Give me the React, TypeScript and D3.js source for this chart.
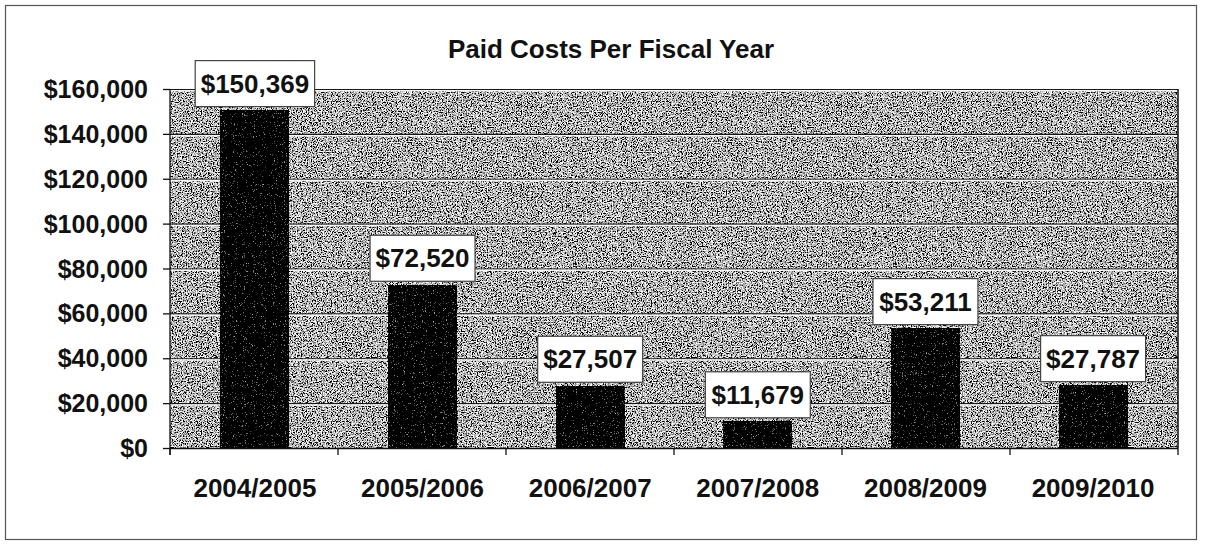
import React from "react";
import * as d3 from "d3";

const categories = ["2004/2005", "2005/2006", "2006/2007", "2007/2008", "2008/2009", "2009/2010"];
const values = [150369, 72520, 27507, 11679, 53211, 27787];
const yTicks = [0, 20000, 40000, 60000, 80000, 100000, 120000, 140000, 160000];
const title = "Paid Costs Per Fiscal Year";

const W = 1205;
const H = 544;
const plot = { left: 170, right: 1178, top: 89, bottom: 448 };
const FONT = "'Liberation Sans', Arial, sans-serif";

export default function App() {
  const x = d3
    .scaleBand<string>()
    .domain(categories)
    .range([plot.left, plot.right])
    .paddingInner(0.595)
    .paddingOuter(0.304);
  const y = d3.scaleLinear().domain([0, 160000]).range([plot.bottom, plot.top]);
  const fmt = (v: number) => "$" + d3.format(",")(v);
  const step = (plot.right - plot.left) / categories.length;
  const yFont = 25;
  const labFont = 26;
  const charW = (s: string) =>
    s.split("").reduce((a, c) => a + (c === "," ? 0.278 : 0.556), 0) * labFont;

  return (
    <svg width={W} height={H} style={{ position: "absolute", left: 0, top: 0, background: "#fff" }}>
      <defs>
        <filter id="grain" x="0" y="0" width="100%" height="100%" filterUnits="objectBoundingBox">
          <feTurbulence type="fractalNoise" baseFrequency="0.8" numOctaves="2" seed="7" result="n" />
          <feColorMatrix
            in="n"
            type="matrix"
            values="0.33 0.33 0.33 0 0  0.33 0.33 0.33 0 0  0.33 0.33 0.33 0 0  0 0 0 0 1"
            result="g"
          />
          <feComponentTransfer in="g">
            <feFuncR type="linear" slope="7" intercept="-3.0" />
            <feFuncG type="linear" slope="7" intercept="-3.0" />
            <feFuncB type="linear" slope="7" intercept="-3.0" />
          </feComponentTransfer>
        </filter>
        <filter id="grainDark" x="0" y="0" width="100%" height="100%" filterUnits="objectBoundingBox">
          <feTurbulence type="fractalNoise" baseFrequency="0.9" numOctaves="2" seed="11" result="n" />
          <feColorMatrix
            in="n"
            type="matrix"
            values="0.33 0.33 0.33 0 0  0.33 0.33 0.33 0 0  0.33 0.33 0.33 0 0  0 0 0 0 1"
            result="g"
          />
          <feComponentTransfer in="g">
            <feFuncR type="linear" slope="3" intercept="-1.75" />
            <feFuncG type="linear" slope="3" intercept="-1.75" />
            <feFuncB type="linear" slope="3" intercept="-1.75" />
          </feComponentTransfer>
        </filter>
      </defs>

      {/* outer frame */}
      <rect x={5.5} y={5.5} width={1191} height={534} fill="#fff" stroke="#555" strokeWidth={1.2} />

      {/* title */}
      <text x={611} y={58} textAnchor="middle" fontFamily={FONT} fontWeight="bold" fontSize={26} fill="#111">
        {title}
      </text>

      {/* plot background */}
      <rect
        x={plot.left}
        y={plot.top}
        width={plot.right - plot.left}
        height={plot.bottom - plot.top}
        fill="#a0a0a0"
        filter="url(#grain)"
      />

      {/* gridlines */}
      {yTicks.slice(1).map((t) => (
        <g key={"g" + t}>
          <line x1={plot.left} x2={plot.right} y1={y(t) + 0.5} y2={y(t) + 0.5} stroke="#1a1a1a" strokeWidth={1.2} />
          <line x1={plot.left} x2={plot.right} y1={y(t) + 1.8} y2={y(t) + 1.8} stroke="#f4f4f4" strokeWidth={1.4} />
        </g>
      ))}

      {/* right border */}
      <line x1={plot.right} x2={plot.right} y1={plot.top} y2={plot.bottom} stroke="#111" strokeWidth={1.5} />

      {/* bars */}
      {categories.map((c, i) => (
        <rect
          key={"b" + c}
          x={x(c)!}
          y={y(values[i])}
          width={x.bandwidth()}
          height={plot.bottom - y(values[i])}
          fill="#111"
          filter="url(#grainDark)"
        />
      ))}

      {/* axes */}
      <line x1={plot.left} x2={plot.left} y1={plot.top} y2={plot.bottom + 7} stroke="#111" strokeWidth={1.3} />
      <line x1={plot.left} x2={plot.right} y1={plot.bottom + 0.5} y2={plot.bottom + 0.5} stroke="#111" strokeWidth={1.3} />
      {yTicks.map((t) => (
        <g key={"yt" + t}>
          <line x1={plot.left - 7} x2={plot.left} y1={y(t) + 0.5} y2={y(t) + 0.5} stroke="#111" strokeWidth={1.3} />
          <text
            x={148}
            y={y(t) + 9}
            textAnchor="end"
            fontFamily={FONT}
            fontWeight="bold"
            fontSize={yFont}
            fill="#111"
          >
            {fmt(t)}
          </text>
        </g>
      ))}
      {d3.range(categories.length + 1).map((i) => (
        <line
          key={"xt" + i}
          x1={plot.left + i * step}
          x2={plot.left + i * step}
          y1={plot.bottom}
          y2={plot.bottom + 7}
          stroke="#111"
          strokeWidth={1.3}
        />
      ))}
      {categories.map((c) => (
        <text
          key={"xl" + c}
          x={x(c)! + x.bandwidth() / 2}
          y={497}
          textAnchor="middle"
          fontFamily={FONT}
          fontWeight="bold"
          fontSize={labFont}
          fill="#111"
        >
          {c}
        </text>
      ))}

      {/* value labels */}
      {categories.map((c, i) => {
        const label = fmt(values[i]);
        const tw = charW(label);
        const bw = tw + 11;
        const bh = 46;
        const cx = x(c)! + x.bandwidth() / 2;
        const bottom = y(values[i]) - 4;
        return (
          <g key={"vl" + c}>
            <rect x={cx - bw / 2} y={bottom - bh} width={bw} height={bh} fill="#fff" stroke="#444" strokeWidth={1.2} />
            <text
              x={cx}
              y={bottom - bh / 2 + 9}
              textAnchor="middle"
              fontFamily={FONT}
              fontWeight="bold"
              fontSize={labFont}
              fill="#111"
            >
              {label}
            </text>
          </g>
        );
      })}
    </svg>
  );
}
